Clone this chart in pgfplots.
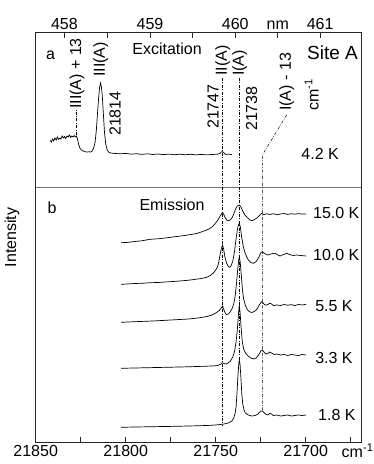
\documentclass[border=0pt]{standalone}
\usepackage{pgfplots}
\pgfplotsset{compat=1.18}
\usepackage{fontspec}
\setmainfont{Liberation Sans}
\begin{document}
\begin{tikzpicture}[font=\fontsize{16bp}{19bp}\selectfont]
\path[use as bounding box] (-35.7bp,-22bp) rectangle (338.3bp,442bp);
\tikzset{dd/.style={black, line width=0.5bp, dash pattern=on 3bp off 1.5bp on 0.8bp off 1.5bp}}
\begin{axis}[at={(0,0)}, anchor=south west, scale only axis,
  width=325.3bp, height=409bp,
  xmin=21669.3, xmax=21850, x dir=reverse, ymin=0, ymax=409,
  clip=false, scaled x ticks=false,
  axis line style={black!85, line width=1bp},
  xtick={21850,21800,21750,21700},
  xticklabels={21850,21800,21750,21700},
  minor xtick={21825,21775,21725,21675},
  xtick pos=lower, ytick=\empty,
  tick align=inside,
  major tick length=5bp, minor tick length=5bp,
  every tick/.style={black!85, line width=0.8bp},
  tick label style={font=\fontsize{16bp}{19bp}\selectfont},
]
% separator between panels
\addplot[black!55, line width=1bp] coordinates {(21850,254) (21669.3,254)};
% excitation 4.2 K
\addplot[black, line width=0.7bp] coordinates {
(21842,302) (21841.3,300) (21840.6,303) (21840,301) (21839.3,304) (21838.6,302) (21838,305) (21837.3,302.5)
(21836.6,304) (21836,303) (21835.3,306) (21834.6,304) (21834,305.5) (21833.3,303.5) (21832.6,306)
(21832,305) (21831.3,307) (21830.6,304.5) (21830,306) (21829.3,305) (21828.6,306.5) (21828,305)
(21827.3,306) (21826.8,303) (21826.2,298) (21825.5,294) (21824.6,292) (21823.6,291) (21822.5,290.3)
(21821.5,290) (21820.5,290.2) (21819.5,290) (21818.6,291) (21817.8,294) (21817,300) (21816.3,312)
(21815.7,328) (21815,345) (21814.5,355) (21814,359) (21813.5,355) (21813,346) (21812.4,328)
(21811.8,310) (21811.1,298) (21810.3,292) (21809.5,290) (21808.5,289) (21806,288.5) (21803,288.2)
(21800,288.6) (21797,287.8) (21794,288.3) (21791,287.6) (21788,288.2) (21785,287.5) (21782,288)
(21779,287.4) (21776,287.9) (21773,287.3) (21770,287.8) (21767,287.2) (21764,287.7) (21761,287.1)
(21758,287.6) (21755,287.1) (21752,287.5) (21749,287.8) (21747.5,288.8) (21746.5,290.5) (21745.5,289.3)
(21744.5,287.6) (21743,287.9) (21741.1,287.4)};
% 15.0 K
\addplot[black, line width=0.7bp] coordinates {
(21802.5,199.3) (21799,199.6) (21795,200.5) (21791,201.2) (21786.5,202.7) (21782,203.2) (21778,204)
(21773,205.2) (21768,206.3) (21765,207.2) (21762,208) (21760,208.8) (21758,210) (21756.5,211)
(21755,212) (21753.5,213.3) (21752.5,214.5) (21751.5,216) (21750.5,218) (21749.7,219.8) (21749,221.5)
(21748,224.5) (21747,227.5) (21746.3,229.5) (21745.6,228) (21744.8,224.5) (21743.8,221.8) (21743,221.3)
(21742,222) (21741,224) (21740,228) (21739,233) (21738,236) (21736.9,237) (21736,235) (21735,231)
(21734,227.5) (21732.5,224.5) (21731,222) (21730,221.3) (21729,222) (21727.5,223.5) (21726,226)
(21725,228) (21724.4,228.7) (21723.5,227.5) (21722.5,227.7) (21721.5,228.3) (21720,227.5) (21718,228.3)
(21716,227.3) (21714,228) (21712,228.5) (21710,227.6) (21708,228.3) (21706,227.8) (21704,228.4)
(21702,227.9) (21699.8,228)};
% 10.0 K
\addplot[black, line width=0.7bp] coordinates {
(21802.5,157.7) (21799,158) (21795,158.5) (21790,158.8) (21786.5,159.3) (21782,159.5) (21778,160)
(21773,160.6) (21768,161.3) (21765,161.8) (21762,162.5) (21758,163.5) (21755,164.7) (21753,166.5)
(21751.5,168.7) (21750,172) (21749,175) (21748.3,180) (21747.5,188) (21746.8,194) (21746.2,197)
(21745.6,193) (21744.9,185) (21744,179) (21743,175.5) (21742.3,174.7) (21741.5,176) (21740.5,181)
(21739.6,190) (21738.8,202) (21738,212) (21737.4,217) (21736.9,218.7) (21736.3,215) (21735.6,205)
(21734.7,195.3) (21733.5,188) (21731.9,182) (21730.5,179.5) (21729,178.7) (21727.5,180.5) (21726,185)
(21724.8,189.5) (21724.2,190.3) (21723.2,189) (21722,187.5) (21721,187) (21719.5,188) (21718,188.5)
(21717,188.7) (21716,187.5) (21714.3,186) (21713,187) (21711.5,188) (21710.6,188.7) (21709,187.5)
(21707,186.5) (21705,187) (21703,186.5) (21701,186.2) (21699.8,186)};
% 5.5 K
\addplot[black, line width=0.7bp] coordinates {
(21802.5,119.7) (21795,120.3) (21785,121) (21775,122) (21765,123) (21760,124) (21755,125.5)
(21752,127) (21750,129) (21748,131.5) (21747,134) (21746.2,136) (21745.4,132) (21744.6,128.5)
(21744,127.5) (21743,128) (21742,130) (21741,133) (21740,138) (21739.2,146) (21738.5,158)
(21737.8,172) (21737.3,181) (21736.9,185) (21736.4,180) (21735.8,167) (21735.2,153) (21734.5,143)
(21733.5,136.5) (21732.5,132.5) (21731.5,130.5) (21730,129.5) (21728.5,130.5) (21727,133)
(21725.8,137) (21724.6,140.3) (21723.8,139.5) (21723,137.5) (21722,136.8) (21721,137.5) (21720,138.7)
(21719,138) (21718,136.5) (21716,137) (21714,136.5) (21712,137.5) (21710,136.8) (21708,137.3)
(21706,136.5) (21704,137.5) (21702,137) (21699.8,137.7)};
% 3.3 K
\addplot[black, line width=0.7bp] coordinates {
(21802.5,73.7) (21790,74.2) (21780,74.6) (21770,75) (21760,75.5) (21752,76) (21749,76.5)
(21747.5,77.5) (21746.3,79.3) (21745.3,78.3) (21744,78) (21742,80.5) (21740.5,85) (21739.5,91)
(21738.7,100) (21738,112) (21737.4,127) (21736.9,137) (21736.4,128) (21735.8,112) (21735.2,100)
(21734.5,93) (21733.5,89) (21732,86) (21730.5,84) (21729,83) (21727.5,84) (21726,87.5) (21724.8,91.5)
(21724,92) (21723,89.5) (21722,88) (21721,88.5) (21720,90) (21719,89) (21717.5,87.5) (21716,88)
(21714,87) (21712,87.5) (21710,86.5) (21708,87.5) (21706,87) (21704,86.5) (21702,87.5) (21699.8,87)};
% 1.8 K
\addplot[black, line width=0.7bp] coordinates {
(21802.5,14.7) (21795,15) (21785,15.3) (21775,15.6) (21765,16) (21755,16.5) (21750,17) (21746,17.8)
(21743,19) (21741,21) (21740,24) (21739.3,28) (21738.7,35) (21738.2,48) (21737.7,65) (21737.2,78)
(21736.9,82) (21736.5,78) (21736,64) (21735.5,48) (21735,38) (21734.3,32) (21733.5,29) (21732,27)
(21730,26) (21728,26.5) (21726.5,28) (21725,31) (21724,31) (21723,29) (21722,27.5) (21721,27)
(21720,28.5) (21719,28) (21718,26.5) (21716,27) (21714,26) (21712,26.5) (21710,27) (21708,26)
(21706,26.5) (21704,27) (21702,26.5) (21699.8,27)};
% dash-dot marker lines
\addplot[dd] coordinates {(21827.2,307) (21827.2,332)};
\addplot[dd] coordinates {(21746.1,364) (21746.1,17)};
\addplot[dd] coordinates {(21736.9,364) (21736.9,82)};
\addplot[dd] coordinates {(21710.6,327) (21724.1,287) (21724.1,31)};
% panel a texts
\node at (axis cs:21841.8,387) {a};
\node at (axis cs:21777,393) {Excitation};
\node[font=\fontsize{19bp}{22bp}\selectfont] at (axis cs:21685.1,389) {Site A};
\node at (axis cs:21692,288) {4.2 K};
\node[rotate=90] at (axis cs:21696.7,347) {cm\textsuperscript{-1}};
\node[rotate=90, anchor=west, inner sep=1bp] at (axis cs:21827.1,332) {III(A) + 13};
\node[rotate=90, anchor=west, inner sep=1bp] at (axis cs:21813.9,364) {III(A)};
\node[rotate=90, anchor=west, inner sep=1bp] at (axis cs:21805.9,305) {21814};
\node[rotate=90, anchor=west, inner sep=1bp] at (axis cs:21746.1,365) {II(A)};
\node[rotate=90, anchor=west, inner sep=1bp] at (axis cs:21751.5,312) {21747};
\node[rotate=90, anchor=west, inner sep=1bp] at (axis cs:21736.7,365) {I(A)};
\node[rotate=90, anchor=west, inner sep=1bp] at (axis cs:21730,310) {21738};
\node[rotate=90, anchor=west, inner sep=1bp] at (axis cs:21710.6,330) {I(A) - 13};
% panel b texts
\node at (axis cs:21840.9,234) {b};
\node at (axis cs:21774.3,237) {Emission};
\node[anchor=west, inner sep=0pt] at (axis cs:21696,229) {15.0 K};
\node[anchor=west, inner sep=0pt] at (axis cs:21696,187) {10.0 K};
\node[anchor=west, inner sep=0pt] at (axis cs:21694.8,136) {5.5 K};
\node[anchor=west, inner sep=0pt] at (axis cs:21694.8,84) {3.3 K};
\node[anchor=west, inner sep=0pt] at (axis cs:21693.2,27) {1.8 K};
\end{axis}
\begin{axis}[at={(0,0)}, anchor=south west, scale only axis,
  width=325.3bp, height=409bp,
  xmin=21669.3, xmax=21850, x dir=reverse, ymin=0, ymax=409,
  scaled x ticks=false,
  axis x line*=top, axis y line=none,
  axis line style={black!85, line width=1bp},
  xtick={21834.06,21786.49,21739.13,21715.53,21691.97},
  xticklabels={458,459,460,nm,461},
  minor xtick={21810.25,21762.79},
  tick align=inside,
  major tick length=5bp, minor tick length=5bp,
  every tick/.style={black!85, line width=0.8bp},
  tick label style={font=\fontsize{16bp}{19bp}\selectfont},
]
\end{axis}
\node[anchor=base west, inner sep=0pt] at (305.8bp,-15.9bp) {cm\textsuperscript{-1}};
\node[rotate=90] at (-23.7bp,204.5bp) {Intensity};
\end{tikzpicture}
\end{document}
